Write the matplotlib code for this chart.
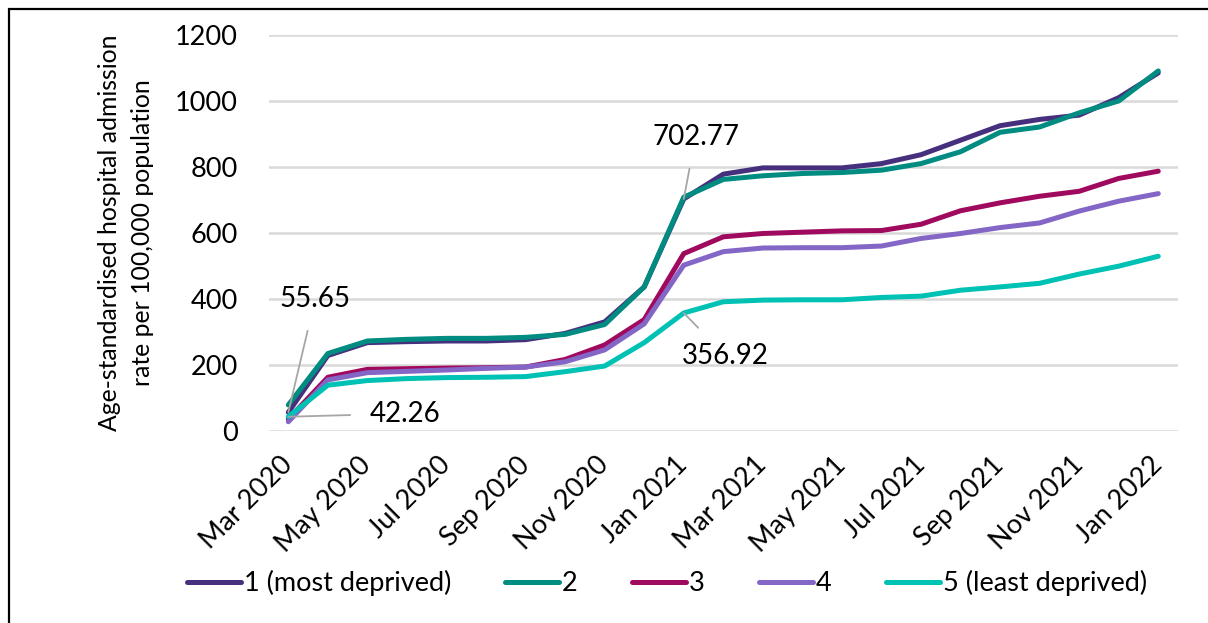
import matplotlib.pyplot as plt
from matplotlib.patches import Rectangle

plt.rcParams['font.family'] = ['Lato', 'DejaVu Sans']

months = ['Mar 2020', 'Apr 2020', 'May 2020', 'Jun 2020', 'Jul 2020', 'Aug 2020',
          'Sep 2020', 'Oct 2020', 'Nov 2020', 'Dec 2020', 'Jan 2021', 'Feb 2021',
          'Mar 2021', 'Apr 2021', 'May 2021', 'Jun 2021', 'Jul 2021', 'Aug 2021',
          'Sep 2021', 'Oct 2021', 'Nov 2021', 'Dec 2021', 'Jan 2022']

q1 = [55.65, 228, 267, 270, 272, 272, 276, 295, 330, 436, 702.77, 778,
      797, 797, 797, 810, 837, 881, 925, 944, 957, 1010, 1085]
q2 = [78, 234, 272, 277, 280, 280, 283, 292, 322, 436, 708, 762,
      773, 780, 783, 790, 810, 846, 905, 921, 964, 1000, 1091]
q3 = [35, 162, 186, 188, 190, 191, 193, 216, 260, 337, 537, 588,
      598, 602, 606, 607, 626, 667, 691, 711, 726, 765, 787]
q4 = [27, 154, 176, 180, 184, 189, 193, 209, 245, 324, 502, 543,
      554, 555, 555, 560, 583, 598, 616, 630, 666, 696, 719]
q5 = [42.26, 138, 152, 158, 161, 162, 164, 179, 196, 267, 356.92, 391,
      396, 397, 397, 404, 408, 426, 436, 447, 475, 499, 529]

labels = ['1 (most deprived)', '2', '3', '4', '5 (least deprived)']
colors = ['#46307E', '#008C80', '#A00A5E', '#8366C6', '#00C2B4']

fig = plt.figure(figsize=(12.08, 6.23), dpi=100)
ax = fig.add_axes([0.2223, 0.3087, 0.7529, 0.6351])

x = list(range(len(months)))
for series, lab, col in zip([q1, q2, q3, q4, q5], labels, colors):
    ax.plot(x, series, color=col, linewidth=3.6, label=lab,
            solid_capstyle='round', solid_joinstyle='round')

ax.set_xlim(-0.5, len(months) - 0.5)
ax.set_ylim(0, 1200)
ax.set_yticks(range(0, 1201, 200))
ax.set_xticks(x[::2])
ax.set_xticklabels(months[::2], rotation=45, ha='right', va='center',
                   rotation_mode='anchor')
ax.tick_params(axis='x', length=0, pad=22, labelsize=19.5)
ax.tick_params(axis='y', length=0, pad=22, labelsize=19.5)
ax.grid(axis='y', color='#D9D9D9', linewidth=1.8)
ax.set_axisbelow(True)
for s in ax.spines.values():
    s.set_visible(False)

ax.set_ylabel('Age-standardised hospital admission\nrate per 100,000 population',
              fontsize=17.8, labelpad=15, linespacing=1.55)

# callouts for the first and the January 2021 values
def callout(xi, yi, text, tx, ty):
    ax.annotate(text, xy=(xi, yi), xytext=(tx, ty), fontsize=20,
                ha='center', va='center',
                arrowprops=dict(arrowstyle='-', color='#A6A6A6', lw=1.3,
                                shrinkA=12, shrinkB=0))

callout(0, q1[0], '55.65', 0.68, 400)
callout(0, q5[0], '42.26', 2.95, 52)
callout(10, q1[10], '702.77', 10.3, 892)
callout(10, q5[10], '356.92', 11.05, 228)

fig.legend(loc='center', bbox_to_anchor=(0.552, 0.064), ncol=5, frameon=False,
           fontsize=19.5, handlelength=2.0, handletextpad=0.1, columnspacing=2.0)

fig.add_artist(Rectangle((0.0075, -0.05), 1.2, 1.0355, transform=fig.transFigure,
                         fill=False, edgecolor='black', linewidth=1.6))

fig.savefig('out.png', dpi=100)
